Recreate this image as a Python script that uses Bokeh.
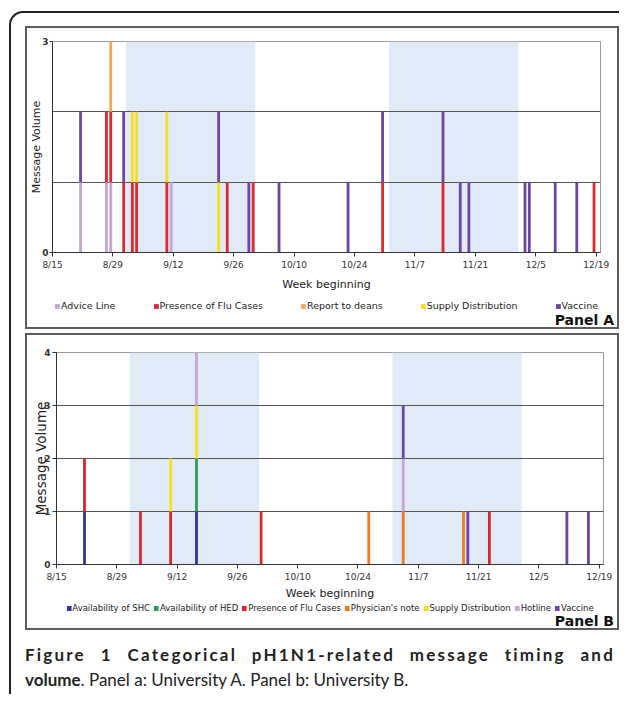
import pandas as pd
from bokeh.plotting import figure
from bokeh.models import (ColumnDataSource, FixedTicker, BoxAnnotation,
                          Legend, LegendItem, Div, Range1d)
from bokeh.layouts import column
from bokeh.embed import file_html
from bokeh.resources import INLINE

# ---------------- data ----------------
YEAR = 2009
START = "8/15"
tick_labels = ["8/15", "8/29", "9/12", "9/26", "10/10", "10/24", "11/7", "11/21", "12/5", "12/19"]
shaded_periods = [("9/1", "10/1"), ("11/1", "12/1")]

# Panel A: University A
a_dates = ["8/21", "8/27", "8/28", "8/31", "9/2", "9/3", "9/10", "9/11", "9/22", "9/24", "9/29", "9/30",
           "10/6", "10/22", "10/30", "11/13", "11/17", "11/19", "12/2", "12/3", "12/9", "12/14", "12/18"]
a_categories = ["Advice Line", "Presence of Flu Cases", "Report to deans", "Supply Distribution", "Vaccine"]
a_advice_line = [1, 1, 1, 0, 0, 0, 0, 1, 0, 0, 0, 0, 0, 0, 0, 0, 0, 0, 0, 0, 0, 0, 0]
a_flu_cases   = [0, 1, 1, 1, 1, 1, 1, 0, 0, 1, 0, 1, 0, 0, 1, 1, 0, 0, 0, 0, 0, 0, 1]
a_deans       = [0, 0, 1, 0, 0, 0, 0, 0, 0, 0, 0, 0, 0, 0, 0, 0, 0, 0, 0, 0, 0, 0, 0]
a_supply      = [0, 0, 0, 0, 1, 1, 1, 0, 1, 0, 0, 0, 0, 0, 0, 0, 0, 0, 0, 0, 0, 0, 0]
a_vaccine     = [1, 0, 0, 1, 0, 0, 0, 0, 1, 0, 1, 0, 1, 1, 1, 1, 1, 1, 1, 1, 1, 1, 0]
a_colors = ["#c6a4d6", "#dc2a2f", "#f2a85c", "#f6e01c", "#6b45a6"]

# Panel B: University B
b_dates = ["8/21", "9/3", "9/10", "9/16", "10/1", "10/26", "11/3", "11/17", "11/18", "11/23", "12/11", "12/16"]
b_categories = ["Availability of SHC", "Availability of HED", "Presence of Flu Cases", "Physician's note",
                "Supply Distribution", "Hotline", "Vaccine"]
b_shc       = [1, 0, 0, 1, 0, 0, 0, 0, 0, 0, 0, 0]
b_hed       = [0, 0, 0, 1, 0, 0, 0, 0, 0, 0, 0, 0]
b_flu_cases = [1, 1, 1, 0, 1, 0, 0, 0, 0, 1, 0, 0]
b_physician = [0, 0, 0, 0, 0, 1, 1, 1, 0, 0, 0, 0]
b_supply    = [0, 0, 1, 1, 0, 0, 0, 0, 0, 0, 0, 0]
b_hotline   = [0, 0, 0, 1, 0, 0, 1, 0, 0, 0, 0, 0]
b_vaccine   = [0, 0, 0, 0, 0, 0, 1, 0, 1, 0, 1, 1]
b_colors = ["#2f3793", "#2e9a5c", "#d8262b", "#f07a24", "#f5e21c", "#c9a4d8", "#6b45a6"]

caption_bold = "Figure 1 Categorical pH1N1-related message timing and"
caption_bold2 = "volume"
caption_rest = ". Panel a: University A. Panel b: University B."


def day(s):
    m, d = (int(v) for v in s.split("/"))
    sm, sd = (int(v) for v in START.split("/"))
    return (pd.Timestamp(YEAR, m, d) - pd.Timestamp(YEAR, sm, sd)).days


X_END = day(tick_labels[-1]) + 1
FONT = "DejaVu Sans"
W = 590
NAN = float("nan")


def make_chart(dates, cats, series, colors, ymax, yticks, H, borders, yax, xlab_standoff):
    left, right, top, bottom = borders
    p = figure(width=W, height=H,
               x_range=Range1d(0, X_END), y_range=Range1d(0, ymax),
               output_backend="svg", toolbar_location=None, title=None,
               min_border_left=left, min_border_right=right,
               min_border_top=top, min_border_bottom=bottom)
    p.background_fill_color = "white"
    p.border_fill_color = "white"

    for s, e in shaded_periods:
        p.add_layout(BoxAnnotation(left=day(s), right=day(e), fill_color="#e0ebf7",
                                   fill_alpha=1.0, line_color=None, level="image"))

    data = {"x": [day(d) + 0.5 for d in dates]}
    for c, vals in zip(cats, series):
        data[c] = vals
    src = ColumnDataSource(data)
    p.vbar_stack(cats, x="x", width=0.65, source=src, fill_color=colors, line_color=None)

    p.xaxis.ticker = FixedTicker(ticks=[day(t) for t in tick_labels])
    p.xaxis.major_label_overrides = {day(t): t for t in tick_labels}
    p.yaxis.ticker = FixedTicker(ticks=yticks)
    for ax in (p.xaxis[0], p.yaxis[0]):
        ax.axis_line_color = "#333"
        ax.major_tick_line_color = "#333"
        ax.minor_tick_line_color = None
        ax.major_tick_in = 0
        ax.major_tick_out = 4
        ax.major_label_text_font = FONT
        ax.major_label_text_font_size = "9px"
        ax.major_label_text_color = "#333"
        ax.axis_label_text_font = FONT
        ax.axis_label_text_font_style = "normal"
        ax.axis_label_text_color = "#222"
    p.xaxis.major_label_standoff = 3
    p.xaxis.axis_label = "Week beginning"
    p.xaxis.axis_label_text_font_size = "11px"
    p.xaxis.axis_label_standoff = xlab_standoff
    y_tick_out, y_lab_standoff, ylab_size, ylab_standoff = yax
    p.yaxis.major_tick_out = y_tick_out
    p.yaxis.major_label_standoff = y_lab_standoff
    p.yaxis.major_label_text_font_style = "bold"
    p.yaxis.axis_label = "Message Volume"
    p.yaxis.axis_label_text_font_size = ylab_size
    p.yaxis.axis_label_standoff = ylab_standoff

    p.xgrid.visible = False
    p.ygrid.ticker = FixedTicker(ticks=list(range(1, ymax)))
    p.ygrid.grid_line_color = "#555"
    p.ygrid.grid_line_width = 1
    p.outline_line_color = "#9a9a9a"
    return p


def make_legend_row(cats, colors, H, leg):
    lp = figure(width=W, height=H, x_range=Range1d(0, 1), y_range=Range1d(0, 1),
                output_backend="svg", toolbar_location=None, title=None,
                x_axis_location=None, y_axis_location=None,
                min_border_left=0, min_border_right=0,
                min_border_top=0, min_border_bottom=0)
    lp.xgrid.visible = False
    lp.ygrid.visible = False
    lp.outline_line_color = None
    lp.background_fill_color = "white"
    lp.border_fill_color = "white"
    items = []
    for c, col in zip(cats, colors):
        # legend proxy (no visible mark)
        r = lp.vbar(x=[NAN], top=[NAN], width=1, fill_color=col, line_color=None)
        items.append(LegendItem(label=c, renderers=[r]))
    lmargin, lsp, lfs = leg
    lp.add_layout(Legend(items=items, location="top_center", orientation="horizontal",
                         spacing=lsp, glyph_width=6, glyph_height=6, label_standoff=1,
                         label_height=9, label_text_font=FONT, label_text_font_size=lfs,
                         label_text_color="#222", padding=0, margin=lmargin,
                         border_line_color=None, background_fill_alpha=0))
    return lp


def panel_tag(text):
    return Div(text='<div style="width:587px;text-align:right;">' + text + '</div>',
               width=W, height=14, margin=0,
               styles={"font-family": "'DejaVu Sans', sans-serif", "font-weight": "bold",
                       "font-size": "14px", "line-height": "14px", "color": "#111"})


chartA = make_chart(a_dates, a_categories,
                    [a_advice_line, a_flu_cases, a_deans, a_supply, a_vaccine], a_colors,
                    3, [0, 3], 265, (25, 17, 13, 36), (3, 1, "11px", -4), 5)
legA = make_legend_row(a_categories, a_colors, 20, (7, 37, "9.5px"))

chartB = make_chart(b_dates, b_categories,
                    [b_shc, b_hed, b_flu_cases, b_physician, b_supply, b_hotline, b_vaccine], b_colors,
                    4, [0, 1, 2, 3, 4], 267, (29, 14, 17, 34), (4, 2, "13.5px", -8), 2)
legB = make_legend_row(b_categories, b_colors, 12, (1, 3, "8.5px"))

box_style = {"border": "2px solid #5c5c5c"}
boxA = column(chartA, legA, panel_tag("Panel A"), spacing=0, margin=(13, 0, 0, 14), styles=box_style)
boxB = column(chartB, legB, panel_tag("Panel B"), spacing=0, margin=(4, 0, 0, 14), styles=box_style)

caption_html = (
    '<div style="width:590px;margin-top:10px;font-weight:700;letter-spacing:2.2px;'
    'text-align:justify;text-align-last:justify;">'
    + caption_bold + '</div>'
    + '<div style="width:590px;"><span style="font-weight:700">' + caption_bold2 + '</span>'
    + caption_rest + '</div>'
)
cap = Div(text=caption_html, width=590, height=62, margin=(2, 0, 0, 14),
          styles={"font-family": "Lato, sans-serif", "font-size": "17px",
                  "line-height": "25px", "color": "#222"})

root = column(boxA, boxB, cap, spacing=0, margin=(11, 0, 0, 9),
              styles={"border-top": "2px solid #222", "border-left": "2px solid #222",
                      "border-top-left-radius": "14px"})

open("out.html", "w").write(file_html(root, INLINE))
